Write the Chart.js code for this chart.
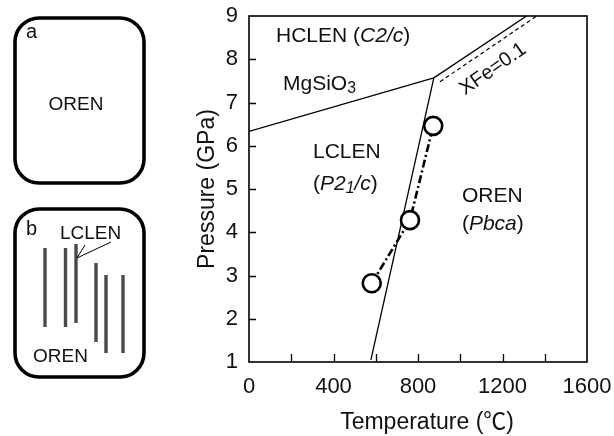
<!DOCTYPE html>
<html>
<head>
<meta charset="utf-8">
<script src="https://cdn.jsdelivr.net/npm/chart.js@4.4.1/dist/chart.umd.min.js"></script>
<style>
html, body { margin: 0; padding: 0; background: #fff; }
#wrap { width: 614px; height: 436px; }
</style>
</head>
<body>
<div id="wrap"><canvas id="phase-chart" width="614" height="436"></canvas></div>
<script>
// limites de fase (T em °C, P em GPa)
const mgBoundaryT = [0, 875];
const mgBoundaryP = [6.33, 7.57];
const hcOrBoundaryT = [875, 1314];
const hcOrBoundaryP = [7.57, 9];
const lcOrBoundaryT = [875, 577];
const lcOrBoundaryP = [7.57, 1.05];
const xfeBoundaryT = [904, 1362];
const xfeBoundaryP = [7.48, 9];
// pontos experimentais
const expT = [581, 762, 872];
const expP = [2.82, 4.28, 6.46];
// eixos
const xMin = 0, xMax = 1600, xStep = 200, xLabelEvery = 400;
const yMin = 1, yMax = 9, yStep = 1;
const xTitleRuns = [{ t: 'Temperature (' }, { t: '℃', cjk: true }, { t: ')' }];

const FONT = '"Liberation Sans", Arial, Helvetica, sans-serif';
const CJK_FONT = '"Noto Sans CJK JP", "Liberation Sans", sans-serif';
const INK = '#111';

function toPoints(xs, ys) {
    return xs.map((x, i) => ({ x: x, y: ys[i] }));
}

function lineSet(xs, ys, extra) {
    return Object.assign({
        data: toPoints(xs, ys),
        showLine: true,
        borderColor: '#000',
        borderWidth: 1.3,
        pointRadius: 0,
        fill: false
    }, extra || {});
}

function runFont(r, size) {
    const s = r.sub ? size * 0.75 : size;
    return (r.italic ? 'italic ' : '') + s + 'px ' + (r.cjk ? CJK_FONT : FONT);
}

// escreve texto com partes em itálico / subscrito
function drawRuns(ctx, x, y, runs, size) {
    let cx = x;
    runs.forEach(r => {
        ctx.font = runFont(r, size);
        ctx.fillText(r.t, cx, y + (r.sub ? size * 0.16 : 0));
        cx += ctx.measureText(r.t).width;
    });
}

function runsWidth(ctx, runs, size) {
    return runs.reduce((w, r) => {
        ctx.font = runFont(r, size);
        return w + ctx.measureText(r.t).width;
    }, 0);
}

// rótulos das regiões, em coordenadas de dados
const regionLabels = [
    { x: 128, y: 8.41, runs: [{ t: 'HCLEN (' }, { t: 'C2/c', italic: true }, { t: ')' }] },
    { x: 161, y: 7.29, runs: [{ t: 'MgSiO' }, { t: '3', sub: true }] },
    { x: 303, y: 5.72, runs: [{ t: 'LCLEN' }] },
    { x: 303, y: 4.98, runs: [{ t: '(' }, { t: 'P2', italic: true }, { t: '1', italic: true, sub: true }, { t: '/c', italic: true }, { t: ')' }] },
    { x: 1008, y: 4.70, runs: [{ t: 'OREN' }] },
    { x: 1008, y: 4.05, runs: [{ t: '(' }, { t: 'Pbca', italic: true }, { t: ')' }] }
];

const decorPlugin = {
    id: 'decor',
    afterDraw(chart) {
        const ctx = chart.ctx;
        const xs = chart.scales.x, ys = chart.scales.y;
        const area = chart.chartArea;
        ctx.save();

        // moldura
        ctx.strokeStyle = '#000';
        ctx.lineWidth = 1.6;
        ctx.strokeRect(area.left, area.top, area.right - area.left, area.bottom - area.top);

        // ticks para dentro
        ctx.lineWidth = 1.3;
        ctx.beginPath();
        xs.ticks.forEach(t => {
            if (t.value <= xMin || t.value >= xMax) return;
            const px = Math.round(xs.getPixelForValue(t.value)) + 0.5;
            ctx.moveTo(px, area.bottom);
            ctx.lineTo(px, area.bottom - 8);
        });
        ys.ticks.forEach(t => {
            if (t.value <= yMin || t.value >= yMax) return;
            const py = Math.round(ys.getPixelForValue(t.value)) + 0.5;
            ctx.moveTo(area.left, py);
            ctx.lineTo(area.left + 7, py);
        });
        ctx.stroke();

        // rótulos das regiões
        ctx.fillStyle = INK;
        ctx.textAlign = 'left';
        ctx.textBaseline = 'alphabetic';
        regionLabels.forEach(l => {
            drawRuns(ctx, xs.getPixelForValue(l.x), ys.getPixelForValue(l.y), l.runs, 21);
        });

        // título do eixo x (um pouco à direita do centro, como no original)
        const tw = runsWidth(ctx, xTitleRuns, 23);
        drawRuns(ctx, xs.getPixelForValue(843) - tw / 2, area.bottom + 67, xTitleRuns, 23);

        // XFe=0.1 ao longo da linha tracejada
        ctx.save();
        ctx.translate(xs.getPixelForValue(1155), ys.getPixelForValue(7.77));
        ctx.rotate(-35 * Math.PI / 180);
        ctx.textAlign = 'center';
        ctx.textBaseline = 'middle';
        ctx.font = '20px ' + FONT;
        ctx.fillText('XFe=0.1', 0, 0);
        ctx.restore();

        // painéis esquemáticos a e b
        ctx.strokeStyle = '#000';
        ctx.lineWidth = 3.6;
        ctx.beginPath();
        ctx.roundRect(15, 18, 129, 165, 24);
        ctx.stroke();
        ctx.beginPath();
        ctx.roundRect(15, 209, 129, 168, 24);
        ctx.stroke();

        ctx.fillStyle = INK;
        ctx.textAlign = 'left';
        ctx.textBaseline = 'alphabetic';
        ctx.font = '20px ' + FONT;
        ctx.fillText('a', 26, 38);
        ctx.fillText('b', 26, 235);
        ctx.font = '19px ' + FONT;
        ctx.textAlign = 'center';
        ctx.fillText('OREN', 76, 110);
        ctx.textAlign = 'left';
        ctx.fillText('LCLEN', 60, 239);
        ctx.fillText('OREN', 33, 362);

        // lamelas
        ctx.strokeStyle = '#4a4a4a';
        ctx.lineWidth = 3.4;
        ctx.beginPath();
        [[45, 248, 327], [65.5, 248, 327], [76, 244, 323], [96, 263, 342], [106, 275, 353], [123, 275, 353]].forEach(b => {
            ctx.moveTo(b[0], b[1]);
            ctx.lineTo(b[0], b[2]);
        });
        ctx.stroke();

        ctx.strokeStyle = '#000';
        ctx.lineWidth = 1;
        ctx.beginPath();
        ctx.moveTo(85, 245);
        ctx.lineTo(77, 258);
        ctx.moveTo(111, 242);
        ctx.lineTo(77, 258);
        ctx.stroke();

        ctx.restore();
    }
};

const ctx = document.getElementById('phase-chart').getContext('2d');
new Chart(ctx, {
    type: 'scatter',
    data: {
        datasets: [
            {
                data: toPoints(expT, expP),
                showLine: true,
                borderColor: '#000',
                borderWidth: 2.6,
                borderDash: [8, 3, 2, 3],
                pointRadius: 9,
                pointBorderWidth: 2.6,
                pointBorderColor: '#000',
                pointBackgroundColor: '#fff',
                fill: false
            },
            lineSet(mgBoundaryT, mgBoundaryP),
            lineSet(hcOrBoundaryT, hcOrBoundaryP),
            lineSet(lcOrBoundaryT, lcOrBoundaryP),
            lineSet(xfeBoundaryT, xfeBoundaryP, { borderWidth: 1.2, borderDash: [4, 3] })
        ]
    },
    options: {
        responsive: false,
        animation: false,
        layout: { padding: { left: 191, right: 27, top: 16, bottom: 0 } },
        plugins: {
            legend: { display: false },
            tooltip: { enabled: false }
        },
        scales: {
            x: {
                type: 'linear',
                min: xMin,
                max: xMax,
                afterFit: s => {
                    s.height = 74;
                    s.paddingLeft = 0;
                    s.paddingRight = 0;
                },
                grid: { display: false, drawTicks: false },
                border: { display: false },
                ticks: {
                    stepSize: xStep,
                    autoSkip: false,
                    maxRotation: 0,
                    padding: 12,
                    color: INK,
                    font: { family: FONT, size: 22 },
                    callback: v => (v % xLabelEvery === 0 ? String(v) : '')
                },
                title: { display: false }
            },
            y: {
                type: 'linear',
                min: yMin,
                max: yMax,
                afterFit: s => {
                    s.width = 58;
                    s.paddingTop = 0;
                    s.paddingBottom = 0;
                },
                grid: { display: false, drawTicks: false },
                border: { display: false },
                ticks: {
                    stepSize: yStep,
                    autoSkip: false,
                    padding: 11,
                    color: INK,
                    font: { family: FONT, size: 22 }
                },
                title: {
                    display: true,
                    text: 'Pressure (GPa)',
                    color: INK,
                    font: { family: FONT, size: 23 },
                    padding: { top: 3, bottom: 0 }
                }
            }
        }
    },
    plugins: [decorPlugin]
});
</script>
</body>
</html>
